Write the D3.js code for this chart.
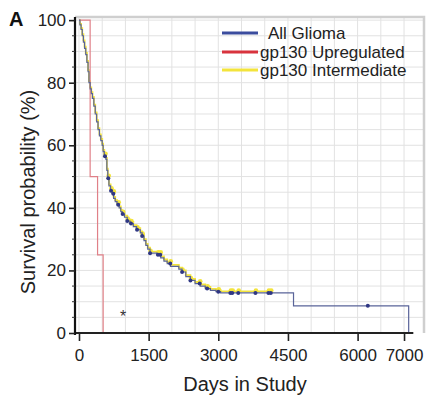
<!DOCTYPE html>
<html>
<head>
<meta charset="utf-8">
<script src="https://cdn.jsdelivr.net/npm/d3@7"></script>
<style>
  body { margin: 0; background: #fff; }
  svg { display: block; font-family: "Liberation Sans", Arial, sans-serif; }
</style>
</head>
<body>
<div id="chart"></div>
<script>
`use strict`;

// Kaplan-Meier step points (day, survival %)
const allDays = [0, 20, 45, 70, 95, 120, 145, 170, 195, 215, 240, 265, 290, 320, 350, 380, 410, 440, 470, 500, 520, 545, 580, 600, 620, 645, 680, 710, 745, 780, 820, 865, 900, 930, 980, 1040, 1100, 1170, 1240, 1320, 1360, 1400, 1440, 1480, 1530, 1680, 1760, 1830, 1900, 1970, 2150, 2220, 2300, 2400, 2500, 2610, 2720, 2830, 2950, 3050, 4620, 7100];
const allSurv = [100, 98.5, 97, 95, 93, 91, 89, 86.5, 83.5, 80, 78, 76.5, 75, 72.5, 70, 67.5, 65, 63, 61.5, 60, 58, 56.5, 55.5, 52, 49.5, 47, 45.5, 44.5, 43, 42, 41, 40, 38.8, 38, 37, 35.8, 35, 34, 33, 32, 31, 29.5, 28, 26.8, 25.5, 25, 24, 23, 22.2, 21.3, 20.4, 19.5, 18, 16.8, 15.8, 15, 14.2, 13.6, 13.2, 12.8, 8.7, 0];

const interDays = [0, 20, 45, 70, 95, 120, 145, 170, 195, 215, 240, 265, 290, 320, 350, 380, 410, 440, 470, 500, 520, 545, 580, 600, 620, 645, 680, 710, 745, 780, 820, 865, 900, 930, 980, 1040, 1100, 1170, 1240, 1320, 1360, 1400, 1440, 1480, 1530, 1680, 1760, 1830, 1900, 1970, 2150, 2220, 2300, 2400, 2500, 2610, 2720, 2830, 2950, 3050, 4130];
const interSurv = [100, 98.8, 97.4, 95.5, 93.5, 91.5, 89.5, 87, 84, 80.5, 78.5, 77, 75.5, 73, 70.5, 68, 65.5, 63.5, 62, 60.5, 58.5, 57, 56, 52.5, 50, 47.5, 46, 45, 43.5, 42.5, 41.5, 40.5, 39.3, 38.5, 37.5, 36.3, 35.5, 34.5, 33.5, 32.5, 31.5, 30, 28.5, 27.3, 26, 25.5, 24.5, 23.5, 22.7, 21.8, 20.9, 20, 18.5, 17.3, 16.3, 15.5, 14.7, 14.1, 13.7, 13.3, 13.3];

const upDays = [0, 240, 400, 520];
const upSurv = [100, 50, 25, 0];

// censored patients (tick marks on the curves)
const allCensor = [560, 630, 690, 740, 845, 940, 1040, 1120, 1250, 1360, 1530, 1700, 1750, 1965, 2220, 2400, 2600, 2760, 3000, 3260, 3300, 3430, 3800, 4080, 4130, 6220];
const interCensor = [560, 630, 690, 740, 845, 940, 1040, 1120, 1250, 1360, 1530, 1700, 1750, 1965, 2220, 2400, 2600, 2760, 3000, 3260, 3300, 3430, 3800, 4080, 4130];

const xTicks = [0, 1500, 3000, 4500, 6000, 7000];
const yTicks = [0, 20, 40, 60, 80, 100];
const legendNames = [`All Glioma`, `gp130 Upregulated`, `gp130 Intermediate`];
const legendColors = [`#3b4c9e`, `#d8333d`, `#f3e43c`];

(function () {

  const W = 430, H = 398;

  let svg = d3.select(`#chart`).append(`svg`)
    .attr(`width`, W)
    .attr(`height`, H);

  let x = d3.scaleLinear().domain([-86, 7430]).range([75, 424]);
  let y = d3.scaleLinear().domain([0, 101]).range([333, 17]);

  // grid
  let grid = svg.append(`g`).attr(`class`, `grid`);

  grid.selectAll(`line.v`).data(d3.range(0, 7001, 500))
    .enter().append(`line`)
    .attr(`x1`, d => x(d)).attr(`x2`, d => x(d))
    .attr(`y1`, y(101)).attr(`y2`, y(0))
    .attr(`stroke`, `#e2e2e2`).attr(`stroke-width`, 1);

  grid.selectAll(`line.h`).data(d3.range(5, 101, 5))
    .enter().append(`line`)
    .attr(`x1`, x(-86)).attr(`x2`, x(7430))
    .attr(`y1`, d => y(d)).attr(`y2`, d => y(d))
    .attr(`stroke`, `#e2e2e2`).attr(`stroke-width`, 1);

  // frame (top + right)
  svg.append(`path`)
    .attr(`d`, `M${x(-86)},${y(101)}H${x(7430)}V${y(0)}`)
    .attr(`fill`, `none`)
    .attr(`stroke`, `#cfcfcf`)
    .attr(`stroke-width`, 2.5);

  let line = (days, surv) => d3.line()
    .x((d, i) => x(days[i]))
    .y(d => y(d))
    .curve(d3.curveStepAfter)(surv);

  let survAt = (days, surv, t) => surv[d3.bisectRight(days, t) - 1];

  // gp130 intermediate (under)
  svg.append(`path`)
    .attr(`d`, line(interDays, interSurv))
    .attr(`fill`, `none`)
    .attr(`stroke`, legendColors[2])
    .attr(`stroke-width`, 1.8);

  svg.append(`g`).selectAll(`circle`).data(interCensor)
    .enter().append(`circle`)
    .attr(`cx`, d => x(d) + 0.5)
    .attr(`cy`, d => y(survAt(interDays, interSurv, d)) - 0.8)
    .attr(`r`, 2.3)
    .attr(`fill`, legendColors[2]);

  // gp130 upregulated
  svg.append(`path`)
    .attr(`d`, line(upDays, upSurv))
    .attr(`fill`, `none`)
    .attr(`stroke`, `#e08088`)
    .attr(`stroke-width`, 1.2);

  // all glioma
  svg.append(`path`)
    .attr(`d`, line(allDays, allSurv))
    .attr(`fill`, `none`)
    .attr(`stroke`, `#5a6499`)
    .attr(`stroke-width`, 1.2);

  svg.append(`g`).selectAll(`circle`).data(allCensor)
    .enter().append(`circle`)
    .attr(`cx`, d => x(d))
    .attr(`cy`, d => y(survAt(allDays, allSurv, d)))
    .attr(`r`, 2)
    .attr(`fill`, `#2f3784`);

  // axes
  let xAxis = svg.append(`g`)
    .attr(`transform`, `translate(0,${y(0)})`)
    .call(d3.axisBottom(x).tickValues(xTicks).tickFormat(d3.format(`d`))
      .tickSize(8).tickSizeOuter(0).tickPadding(8));

  xAxis.select(`.domain`)
    .attr(`d`, `M${x(-86)},0H${x(7200)}`)
    .attr(`stroke`, `#222`)
    .attr(`stroke-width`, 2);

  let yAxis = svg.append(`g`)
    .attr(`transform`, `translate(${x(-86)},0)`)
    .call(d3.axisLeft(y).tickValues(yTicks).tickSize(6).tickSizeOuter(0).tickPadding(3));

  yAxis.select(`.domain`)
    .attr(`d`, `M0,${y(101)}V${y(0) + 2}`)
    .attr(`stroke`, `#111`)
    .attr(`stroke-width`, 2.2);

  yAxis.selectAll(`.minor`).data(d3.range(5, 100, 5).filter(d => d % 20))
    .enter().append(`line`)
    .attr(`class`, `minor`)
    .attr(`x1`, -3).attr(`x2`, 0)
    .attr(`y1`, d => y(d)).attr(`y2`, d => y(d))
    .attr(`stroke`, `#333`);

  svg.selectAll(`.tick line`).attr(`stroke`, `#222`).attr(`stroke-width`, 1.6);
  svg.selectAll(`.tick text`)
    .style(`font-size`, `17px`)
    .style(`font-family`, `"Liberation Sans", Arial, sans-serif`)
    .attr(`fill`, `#222`);

  // labels
  svg.append(`text`)
    .attr(`x`, 245).attr(`y`, 391)
    .attr(`text-anchor`, `middle`)
    .style(`font-size`, `20px`)
    .attr(`fill`, `#222`)
    .text(`Days in Study`);

  svg.append(`text`)
    .attr(`transform`, `translate(35,192) rotate(-90)`)
    .attr(`text-anchor`, `middle`)
    .style(`font-size`, `20px`)
    .attr(`fill`, `#222`)
    .text(`Survival probability (%)`);

  svg.append(`text`)
    .attr(`x`, 9).attr(`y`, 26)
    .style(`font-size`, `20px`)
    .style(`font-weight`, `bold`)
    .attr(`fill`, `#111`)
    .text(`A`);

  svg.append(`text`)
    .attr(`x`, x(950)).attr(`y`, 322)
    .attr(`text-anchor`, `middle`)
    .style(`font-size`, `16px`)
    .attr(`fill`, `#333`)
    .text(`*`);

  // legend
  let legend = svg.append(`g`).attr(`class`, `legend`);
  let legY = [33, 52, 70];
  let legX = [268, 260, 260];

  legend.selectAll(`line`).data(legendNames)
    .enter().append(`line`)
    .attr(`x1`, 222).attr(`x2`, 258)
    .attr(`y1`, (d, i) => legY[i]).attr(`y2`, (d, i) => legY[i])
    .attr(`stroke`, (d, i) => legendColors[i])
    .attr(`stroke-width`, 3);

  legend.selectAll(`text`).data(legendNames)
    .enter().append(`text`)
    .attr(`x`, (d, i) => legX[i])
    .attr(`y`, (d, i) => legY[i] + 6)
    .style(`font-size`, `17px`)
    .attr(`fill`, `#222`)
    .text(d => d);

})();
</script>
</body>
</html>
